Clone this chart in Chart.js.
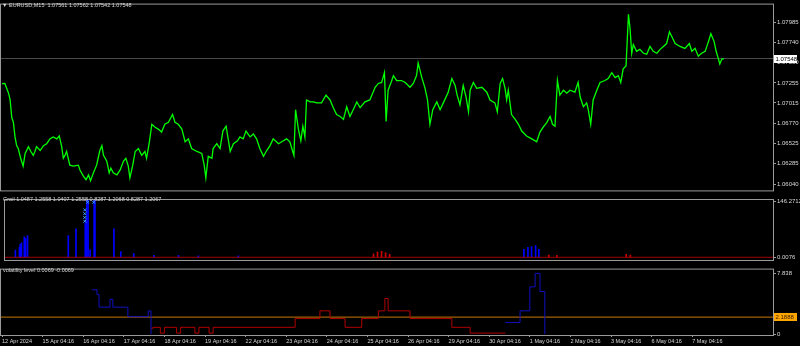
<!DOCTYPE html>
<html>
<head>
<meta charset="utf-8">
<script src="https://cdn.jsdelivr.net/npm/chart.js@4.4.1/dist/chart.umd.min.js"></script>
<style>
  body { margin: 0; background: #000; width: 800px; height: 346px; overflow: hidden; position: relative; }
  canvas { position: absolute; left: 0; }
  .title { position: absolute; color: #d8d8d8; font: 5.5px "Liberation Sans", Arial, sans-serif; white-space: pre; }
</style>
</head>
<body>
<canvas id="mainChart" width="800" height="195" style="top:0"></canvas>
<canvas id="grailChart" width="800" height="70" style="top:195px"></canvas>
<canvas id="volChart" width="800" height="81" style="top:265px"></canvas>
<div class="title" style="left:2px;top:2px">▼</div>
<div class="title" style="left:9px;top:2px">EURUSD,M15  1.07561 1.07562 1.07542 1.07548</div>
<div class="title" style="left:3px;top:196px">Grail 1.0487 1.2558 1.0407 1.2558 0.8287 1.2068 0.8287 1.2067</div>
<div class="title" style="left:3px;top:267px">volatility level 0.0069 -0.0069</div>
<script>
// time axis: days since 12 Apr 2024 04:16 (one tick per trading day)
const dayLabels = ['12 Apr 2024', '15 Apr 04:16', '16 Apr 04:16', '17 Apr 04:16', '18 Apr 04:16', '19 Apr 04:16',
    '22 Apr 04:16', '23 Apr 04:16', '24 Apr 04:16', '25 Apr 04:16', '26 Apr 04:16', '29 Apr 04:16',
    '30 Apr 04:16', '1 May 04:16', '2 May 04:16', '3 May 04:16', '6 May 04:16', '7 May 04:16'];
const dayTicks = [0, 1, 2, 3, 4, 5, 6, 7, 8, 9, 10, 11, 12, 13, 14, 15, 16, 17];

// EURUSD M15 close
const priceTime = [
    0.00, 0.07, 0.16, 0.20, 0.24, 0.28, 0.32, 0.36, 0.40, 0.46, 0.52, 0.57, 0.65, 0.71, 0.77, 0.81, 0.85, 0.94,
    1.02, 1.10, 1.18, 1.26, 1.35, 1.41, 1.47, 1.51, 1.55, 1.59, 1.67, 1.76, 1.88, 1.92, 2.00, 2.07, 2.13, 2.18,
    2.25, 2.33, 2.41, 2.46, 2.50, 2.58, 2.64, 2.68, 2.74, 2.83, 2.91, 2.99, 3.05, 3.11, 3.15, 3.22, 3.28, 3.36,
    3.44, 3.52, 3.56, 3.63, 3.69, 3.77, 3.85, 3.93, 4.01, 4.10, 4.20, 4.26, 4.34, 4.43, 4.51, 4.59, 4.67, 4.80,
    4.92, 4.98, 5.02, 5.08, 5.17, 5.20, 5.29, 5.37, 5.44, 5.52, 5.57, 5.62, 5.70, 5.80, 5.86, 5.94, 6.01, 6.11,
    6.19, 6.27, 6.35, 6.44, 6.52, 6.60, 6.68, 6.81, 6.93, 7.01, 7.09, 7.16, 7.19, 7.23, 7.30, 7.36, 7.41, 7.46,
    7.50, 7.59, 7.67, 7.75, 7.87, 7.98, 8.08, 8.16, 8.24, 8.33, 8.41, 8.49, 8.57, 8.65, 8.74, 8.82, 8.94, 9.06,
    9.19, 9.27, 9.35, 9.42, 9.46, 9.51, 9.60, 9.64, 9.72, 9.84, 9.93, 10.05, 10.13, 10.21, 10.25, 10.34, 10.42, 10.48,
    10.54, 10.61, 10.71, 10.79, 10.87, 10.99, 11.08, 11.16, 11.21, 11.28, 11.36, 11.43, 11.49, 11.53, 11.61, 11.69, 11.82, 11.94,
    12.02, 12.14, 12.20, 12.27, 12.33, 12.39, 12.43, 12.47, 12.55, 12.64, 12.72, 12.80, 12.92, 13.05, 13.17, 13.25, 13.33, 13.42,
    13.50, 13.56, 13.62, 13.68, 13.74, 13.83, 13.91, 13.99, 14.11, 14.19, 14.24, 14.32, 14.40, 14.44, 14.50, 14.56, 14.65, 14.73,
    14.85, 14.93, 15.02, 15.10, 15.18, 15.24, 15.30, 15.37, 15.43, 15.47, 15.51, 15.55, 15.63, 15.71, 15.80, 15.88, 15.96, 16.04,
    16.13, 16.21, 16.29, 16.37, 16.44, 16.50, 16.58, 16.70, 16.82, 16.93, 16.99, 17.07, 17.15, 17.23, 17.32, 17.40, 17.46, 17.54,
    17.59, 17.64, 17.68, 17.73, 17.78
];
const priceClose = [
    1.07246, 1.07249, 1.07133, 1.07051, 1.06841, 1.06783, 1.06608, 1.06503, 1.06468, 1.06351, 1.06257, 1.06409, 1.06491, 1.06433, 1.06386, 1.06433, 1.06491, 1.06444,
    1.06503, 1.06526, 1.06584, 1.06608, 1.06584, 1.06619, 1.06491, 1.06351, 1.06386, 1.06433, 1.06269, 1.06257, 1.06269, 1.06211, 1.06141, 1.06094, 1.06152, 1.06082,
    1.06176, 1.06269, 1.06444, 1.06503, 1.06386, 1.06316, 1.06176, 1.06234, 1.06176, 1.06152, 1.06211, 1.06316, 1.06351, 1.06257, 1.06117, 1.06269, 1.06433, 1.06468,
    1.06386, 1.06433, 1.06351, 1.06549, 1.06759, 1.06724, 1.06701, 1.06666, 1.06759, 1.06783, 1.06876, 1.06783, 1.06759, 1.06701, 1.06549, 1.06584, 1.06468, 1.06433,
    1.06409, 1.06269, 1.06117, 1.06374, 1.06351, 1.06468, 1.06526, 1.06468, 1.06678, 1.06736, 1.06584, 1.06433, 1.06526, 1.06561, 1.06608, 1.06584, 1.06678, 1.06608,
    1.06643, 1.06584, 1.06468, 1.06374, 1.06444, 1.06503, 1.06584, 1.06526, 1.06561, 1.06584, 1.06549, 1.06433, 1.06386, 1.06934, 1.06701, 1.06561, 1.06736, 1.06608,
    1.07051, 1.07028, 1.07028, 1.07016, 1.07016, 1.07109, 1.07051, 1.06958, 1.06876, 1.06853, 1.06818, 1.06969, 1.06853, 1.06934, 1.07028, 1.06958, 1.07028, 1.07051,
    1.07203, 1.07249, 1.07261, 1.07378, 1.06794, 1.07168, 1.07284, 1.07343, 1.07284, 1.07284, 1.07261, 1.07203, 1.07249, 1.07343, 1.07494, 1.07319, 1.07191, 1.07051,
    1.06759, 1.06934, 1.07028, 1.06934, 1.07016, 1.07144, 1.07308, 1.07226, 1.07109, 1.06993, 1.07226, 1.07086, 1.06911, 1.07168, 1.07261, 1.07191, 1.07203, 1.07144,
    1.07051, 1.07016, 1.06911, 1.07249, 1.07308, 1.07191, 1.07051, 1.07168, 1.06876, 1.06818, 1.06759, 1.06678, 1.06619, 1.06584, 1.06549, 1.06666, 1.06724, 1.06783,
    1.06853, 1.06759, 1.06736, 1.07284, 1.07109, 1.07168, 1.07133, 1.07168, 1.07144, 1.07261, 1.07086, 1.06969, 1.07016, 1.06934, 1.06759, 1.07051, 1.07168, 1.07261,
    1.07284, 1.07308, 1.07378, 1.07319, 1.07343, 1.07261, 1.07424, 1.07459, 1.08078, 1.07903, 1.07611, 1.07716, 1.07635, 1.07658, 1.07611, 1.07600, 1.07693, 1.07635,
    1.07611, 1.07658, 1.07693, 1.07728, 1.07868, 1.07810, 1.07728, 1.07693, 1.07670, 1.07728, 1.07635, 1.07670, 1.07576, 1.07611, 1.07635, 1.07751, 1.07845, 1.07751,
    1.07635, 1.07553, 1.07483, 1.07541, 1.07548
];
const priceTicks = [1.07985, 1.07740, 1.07500, 1.07255, 1.07015, 1.06770, 1.06525, 1.06285, 1.06040];
const lastPrice = 1.07548;

// Grail histogram: blue bars, red bars, signal markers
const grailTime = [0.22, 0.32, 0.34, 0.37, 0.44, 0.47, 0.52, 1.53, 1.72, 1.95, 1.97, 1.99, 2.02, 2.07, 2.17, 2.19, 2.66, 2.83, 3.15,
    3.65, 4.26, 4.75, 5.74, 12.81, 12.91, 13.00, 13.10, 13.18];
const grailValue = [19, 26, 34, 38, 54, 50, 57, 57, 75, 90, 100, 150, 150, 20, 150, 150, 75, 15, 10,
    5, 5, 4, 4, 21, 26, 28, 31, 21];
const grailRedTime = [9.11, 9.21, 9.31, 9.41, 9.51, 13.45, 13.65, 15.37, 15.47];
const grailRedValue = [9, 14, 16, 12, 8, 6, 5, 8, 6];
const grailMarkTime = [1.95, 1.95, 1.95, 1.95, 2.02, 2.17];
const grailMarkValue = [95, 105, 115, 125, 145, 145];
const grailTicks = [146.2712, 0.0076];

// volatility level: blue and red step lines, orange level
const volBlueTime = [2.22, 2.34, 2.39, 2.66, 2.73, 3.10, 3.60, 3.67];
const volBlueValue = [5.72, 5.10, 3.48, 4.48, 3.48, 2.24, 2.99, 0];
const volRedTime = [3.67, 3.72, 3.90, 4.00, 4.30, 4.40, 4.75, 4.85, 5.10, 5.20, 7.22, 7.83, 8.08, 8.45, 8.86, 9.27, 9.43, 9.51, 10.05, 11.08, 11.53, 12.40];
const volRedValue = [0.75, 0.87, 0.12, 0.87, 0.12, 0.87, 0.12, 0.87, 0.12, 0.87, 2.0, 3.0, 2.0, 0.87, 2.0, 3.0, 4.6, 3.0, 2.0, 0.87, 0.12, 0.12];
const volBlue2Time = [12.39, 12.76, 13.00, 13.13, 13.25, 13.37];
const volBlue2Value = [1.5, 3.0, 6.1, 7.84, 5.5, 0];
const volLevel = 2.1888;
const volTicks = [7.838, 0];

const textColor = '#d8d8d8';
const frameColor = '#9a9a9a';
const xMin = -0.025, xMax = 18.99;

Chart.defaults.font.family = '"Liberation Sans", Arial, sans-serif';
Chart.defaults.font.size = 6;
Chart.defaults.color = textColor;

const toPoints = (xs, ys) => xs.map((x, i) => ({ x: x, y: ys[i] }));

// grey frame around every window
const framePlugin = {
    id: 'frame',
    afterDraw(chart) {
        const { ctx, chartArea: a } = chart;
        ctx.save();
        ctx.strokeStyle = frameColor;
        ctx.lineWidth = 1;
        ctx.strokeRect(a.left - 0.5, a.top - 0.5, a.right - a.left + 1, a.bottom - a.top + 1);
        ctx.restore();
    }
};

// price tag on the right axis
const tagPlugin = {
    id: 'levelTag',
    afterDraw(chart, args, opts) {
        if (!opts.text) return;
        const ctx = chart.ctx;
        const y = Math.round(chart.scales.y.getPixelForValue(opts.value));
        const x = chart.chartArea.right + 1;
        ctx.save();
        ctx.fillStyle = opts.bg;
        ctx.fillRect(x, y - 4, 23, 8);
        ctx.fillStyle = opts.fg;
        ctx.font = '6px "Liberation Sans", Arial, sans-serif';
        ctx.textBaseline = 'middle';
        ctx.fillText(opts.text, x + 1.5, y + 0.5);
        ctx.restore();
    }
};

function rightAxis(min, max, ticks, fmt) {
    return {
        position: 'right',
        min: min,
        max: max,
        afterFit(s) { s.width = 27; },
        afterBuildTicks(s) { s.ticks = ticks.map(v => ({ value: v })); },
        ticks: { color: textColor, padding: 1, autoSkip: false, callback: fmt },
        grid: { drawOnChartArea: false, color: frameColor, tickLength: 3 },
        border: { display: false }
    };
}

function hiddenX() {
    return { type: 'linear', min: xMin, max: xMax, offset: false, display: false };
}

const common = {
    responsive: false,
    animation: false,
    events: [],
    plugins: { legend: { display: false }, tooltip: { enabled: false } }
};

// main price window
new Chart(document.getElementById('mainChart'), {
    type: 'line',
    data: {
        datasets: [{
            data: toPoints(priceTime, priceClose),
            borderColor: '#00ff00',
            borderWidth: 1.3,
            pointRadius: 0,
            tension: 0
        }, {
            data: [{ x: xMin, y: lastPrice }, { x: xMax, y: lastPrice }],
            borderColor: '#4a4a4a',
            borderWidth: 1,
            pointRadius: 0
        }]
    },
    options: {
        ...common,
        layout: { padding: { left: 1, top: 2, bottom: 2, right: 0 } },
        scales: {
            x: hiddenX(),
            y: rightAxis(1.05966, 1.08195, priceTicks, v => v.toFixed(5))
        },
        plugins: { ...common.plugins, levelTag: { value: lastPrice, text: lastPrice.toFixed(5), bg: '#ffffff', fg: '#000000' } }
    },
    plugins: [framePlugin, tagPlugin]
});

// Grail window
new Chart(document.getElementById('grailChart'), {
    type: 'bar',
    data: {
        datasets: [{
            type: 'scatter',
            data: toPoints(grailMarkTime, grailMarkValue),
            pointStyle: 'crossRot',
            pointRadius: 2,
            borderColor: '#3c9cff',
            borderWidth: 1
        }, {
            type: 'line',
            data: [{ x: xMin, y: 0 }, { x: xMax, y: 0 }],
            borderColor: '#a00000',
            borderWidth: 1,
            pointRadius: 0
        }, {
            data: toPoints(grailRedTime, grailRedValue),
            backgroundColor: '#d00000',
            barThickness: 1
        }, {
            data: toPoints(grailTime, grailValue),
            backgroundColor: '#0000ff',
            barThickness: 1
        }]
    },
    options: {
        ...common,
        layout: { padding: { left: 1, top: 2, bottom: 1, right: 0 } },
        scales: {
            x: hiddenX(),
            y: rightAxis(-7.08, 150.98, grailTicks, v => String(v))
        }
    },
    plugins: [framePlugin]
});

// volatility window with the time axis
new Chart(document.getElementById('volChart'), {
    type: 'line',
    data: {
        datasets: [{
            data: toPoints(volBlueTime, volBlueValue),
            borderColor: '#1010c0', borderWidth: 1, pointRadius: 0, stepped: true
        }, {
            data: toPoints(volBlue2Time, volBlue2Value),
            borderColor: '#1010c0', borderWidth: 1, pointRadius: 0, stepped: true
        }, {
            data: toPoints(volRedTime, volRedValue),
            borderColor: '#b00000', borderWidth: 1, pointRadius: 0, stepped: true
        }, {
            data: [{ x: xMin, y: volLevel }, { x: xMax, y: volLevel }],
            borderColor: '#c87800', borderWidth: 1, pointRadius: 0
        }]
    },
    options: {
        ...common,
        layout: { padding: { left: 1, top: 2, bottom: 0, right: 0 } },
        scales: {
            x: {
                type: 'linear',
                min: xMin,
                max: xMax,
                afterFit(s) { s.height = 11; },
                afterBuildTicks(s) { s.ticks = dayTicks.map(v => ({ value: v })); },
                ticks: {
                    color: textColor, align: 'start', padding: 1, autoSkip: false, maxRotation: 0,
                    font: { size: 5.5 },
                    callback: (v, i) => dayLabels[i]
                },
                grid: { drawOnChartArea: false, color: frameColor, tickLength: 2 },
                border: { display: false }
            },
            y: rightAxis(-0.124, 8.333, volTicks, v => String(v))
        },
        plugins: { ...common.plugins, levelTag: { value: volLevel, text: volLevel.toFixed(4), bg: '#ffa500', fg: '#3a2000' } }
    },
    plugins: [framePlugin, tagPlugin]
});
</script>
</body>
</html>
